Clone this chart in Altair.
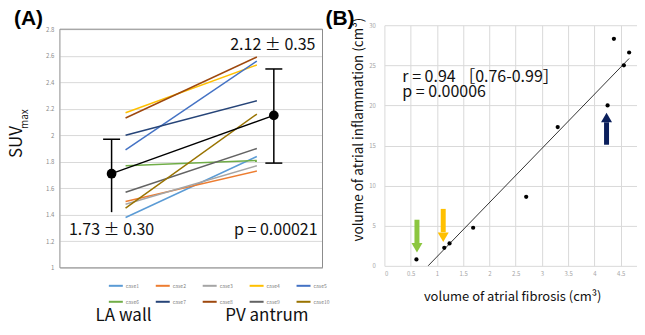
import altair as alt
import pandas as pd

# ---------------- Panel A data ----------------
cases = ["case1", "case2", "case3", "case4", "case5",
         "case6", "case7", "case8", "case9", "case10"]
case_colors = ["#5B9BD5", "#ED7D31", "#A5A5A5", "#FFC000", "#4472C4",
               "#70AD47", "#264478", "#9E480E", "#636363", "#997300"]
groups = ["LA wall", "PV antrum"]
suv_la = [1.38, 1.50, 1.48, 2.17, 1.89, 1.77, 2.00, 2.13, 1.57, 1.45]
suv_pv = [1.84, 1.73, 1.77, 2.53, 2.56, 1.81, 2.26, 2.59, 1.90, 2.16]
mean_suv = [1.71, 2.15]
err_low = [1.42, 1.79]
err_high = [1.97, 2.50]
stat_labels = ["1.73 ± 0.30", "2.12 ± 0.35"]
p_label_a = "p = 0.00021"
suv_ticks = [1.0, 1.2, 1.4, 1.6, 1.8, 2.0, 2.2, 2.4, 2.6, 2.8]

# ---------------- Panel B data ----------------
fibrosis = [0.61, 1.14, 1.24, 1.69, 2.70, 3.30, 4.25, 4.37, 4.56, 4.66]
inflammation = [0.8, 2.25, 2.8, 4.75, 8.6, 17.3, 20.0, 28.3, 25.0, 26.6]
fib_ticks = [0, 0.5, 1, 1.5, 2, 2.5, 3, 3.5, 4, 4.5]
inf_ticks = [0, 5, 10, 15, 20, 25, 30]
r_label = "r = 0.94 ［0.76-0.99］"
p_label_b = "p = 0.00006"
arrow_names = ["green", "yellow", "navy"]
arrow_colors = ["#8CC63F", "#FFC000", "#0B1F5C"]
arrow_shapes = ["triangle-down", "triangle-down", "triangle-up"]
arrow_x = [0.62, 1.12, 4.23]
arrow_tail = [5.75, 7.1, 15.1]
arrow_base = [2.8, 4.2, 17.9]
arrow_head = [2.25, 3.56, 18.5]

FONT = "Noto Sans CJK JP"
BOLD = "Liberation Sans"
GRID = "#d9d9d9"
FRAME = "#8c8c8c"
LABEL = "#8c8c8c"

# ================= Panel A =================
WA, HA = 263, 243
ya_scale = alt.Scale(domain=[1.0, 2.83], nice=False, zero=False)
xa = alt.X("group:N", scale=alt.Scale(type="point", domain=groups, padding=0.5), axis=None)

lines_df = pd.DataFrame({
    "case": cases + cases,
    "group": [groups[0]] * len(cases) + [groups[1]] * len(cases),
    "suv": suv_la + suv_pv,
})

lines = alt.Chart(lines_df).mark_line(strokeWidth=1.5).encode(
    x=xa,
    y=alt.Y("suv:Q", scale=ya_scale,
            axis=alt.Axis(values=suv_ticks, tickCount=len(suv_ticks), format="~g", grid=True,
                          gridColor=GRID, domain=False, ticks=False, labelFontSize=6,
                          labelColor=LABEL, labelPadding=6, title=None, labelFont=FONT,
                          labelOverlap=False)),
    color=alt.Color("case:N", scale=alt.Scale(domain=cases, range=case_colors),
                    legend=alt.Legend(orient="none", legendX=48, legendY=253, columns=5,
                                      direction="horizontal",
                                      title=None, symbolType="stroke", symbolSize=196,
                                      symbolStrokeWidth=2, labelFontSize=5, labelColor="#7f7f7f",
                                      labelOffset=2, columnPadding=12, rowPadding=4, padding=0,
                                      labelFont=FONT)),
)

frame_df = pd.DataFrame({"top": [suv_ticks[-1]], "bottom": [suv_ticks[0]]})
frame_top = alt.Chart(frame_df).mark_rule(color=FRAME, strokeWidth=1).encode(
    x=alt.value(0), x2=alt.value(WA), y="top:Q")
frame_bottom = alt.Chart(frame_df).mark_rule(color=FRAME, strokeWidth=1).encode(
    x=alt.value(0), x2=alt.value(WA), y="bottom:Q")
frame_left = alt.Chart(frame_df).mark_rule(color=FRAME, strokeWidth=1).encode(
    x=alt.value(0), y="top:Q", y2="bottom:Q")
frame_right = alt.Chart(frame_df).mark_rule(color=FRAME, strokeWidth=1).encode(
    x=alt.value(WA), y="top:Q", y2="bottom:Q")

one = pd.DataFrame({"k": [0]})
OFF = [-14, 17]

mean_line = alt.Chart(one).mark_rule(color="black", strokeWidth=1.3,
                                     xOffset=OFF[0], x2Offset=OFF[1]).encode(
    x=alt.datum(groups[0]), x2=alt.datum(groups[1]),
    y=alt.datum(mean_suv[0]), y2=alt.datum(mean_suv[1]))

err_layers = []
for i in range(2):
    err_layers.append(alt.Chart(one).mark_rule(color="black", strokeWidth=1.5, xOffset=OFF[i]).encode(
        x=alt.datum(groups[i]), y=alt.datum(err_low[i]), y2=alt.datum(err_high[i])))
    caps = [err_high[i]] if i == 0 else [err_high[i], err_low[i]]
    for c in caps:
        err_layers.append(alt.Chart(one).mark_rule(color="black", strokeWidth=1.5,
                                                   xOffset=OFF[i] - 8.5, x2Offset=OFF[i] + 8.5).encode(
            x=alt.datum(groups[i]), x2=alt.datum(groups[i]), y=alt.datum(c)))
    err_layers.append(alt.Chart(one).mark_circle(color="black", opacity=1, size=95, xOffset=OFF[i]).encode(
        x=alt.datum(groups[i]), y=alt.datum(mean_suv[i])))

txt_a = [
    alt.Chart(pd.DataFrame({"t": [stat_labels[1]]})).mark_text(
        font=FONT, fontSize=16, color="#111", baseline="alphabetic", dx=16).encode(
        x=alt.datum(groups[1]), y=alt.value(25), text="t:N"),
    alt.Chart(pd.DataFrame({"t": [stat_labels[0]]})).mark_text(
        font=FONT, fontSize=16, color="#111", baseline="alphabetic", dx=-14).encode(
        x=alt.datum(groups[0]), y=alt.value(210), text="t:N"),
    alt.Chart(pd.DataFrame({"t": [p_label_a]})).mark_text(
        font=FONT, fontSize=16, color="#111", baseline="alphabetic", dx=19).encode(
        x=alt.datum(groups[1]), y=alt.value(210), text="t:N"),
    alt.Chart(pd.DataFrame({"t": [groups[0]]})).mark_text(
        font=FONT, fontSize=17, color="#111", baseline="alphabetic", dx=-2).encode(
        x=alt.datum(groups[0]), y=alt.value(296), text="t:N"),
    alt.Chart(pd.DataFrame({"t": [groups[1]]})).mark_text(
        font=FONT, fontSize=17, color="#111", baseline="alphabetic", dx=10).encode(
        x=alt.datum(groups[1]), y=alt.value(296), text="t:N"),
    alt.Chart(pd.DataFrame({"t": ["(A)"]})).mark_text(
        font=BOLD, fontSize=21, fontWeight="bold", color="black", align="left", baseline="top").encode(
        x=alt.value(-46), y=alt.value(-17), text="t:N"),
    alt.Chart(pd.DataFrame({"t": ["SUV"]})).mark_text(
        font=FONT, fontSize=17, color="#111", angle=270, align="center", baseline="middle").encode(
        x=alt.value(-42.5), y=alt.value(117), text="t:N"),
    alt.Chart(pd.DataFrame({"t": ["max"]})).mark_text(
        font=FONT, fontSize=10, color="#111", angle=270, align="center", baseline="middle").encode(
        x=alt.value(-35), y=alt.value(94), text="t:N"),
]

panel_a = alt.layer(lines, frame_top, frame_bottom, frame_left, frame_right,
                    mean_line, *err_layers, *txt_a).properties(width=WA, height=HA)

# ================= Panel B =================
WB, HB = 253, 241
xb_scale = alt.Scale(domain=[0, 4.81], nice=False, zero=False)
yb_scale = alt.Scale(domain=[0, 30], nice=False)

pts_df = pd.DataFrame({"fibrosis": fibrosis, "inflammation": inflammation})

xb_axis = alt.Axis(values=fib_ticks, tickCount=len(fib_ticks), format="~g", grid=True,
                   gridColor=GRID, domain=False, ticks=False, labelFontSize=6,
                   labelColor="#a6a6a6", labelPadding=5, labelFont=FONT, labelOverlap=False,
                   title="volume of atrial fibrosis (cm³)", titleFont=FONT, titleFontSize=13,
                   titleFontWeight="normal", titleColor="#111", titleX=128, titleY=31,
                   titleBaseline="middle", titleAlign="center")
yb_axis = alt.Axis(values=inf_ticks, tickCount=len(inf_ticks), format="~g", grid=True,
                   gridColor=GRID, domain=False, ticks=False, labelFontSize=6,
                   labelColor="#a6a6a6", labelPadding=9, labelFont=FONT, labelOverlap=False,
                   title="volume of atrial inflammation (cm³)", titleFont=FONT, titleFontSize=13.5,
                   titleFontWeight="normal", titleColor="#111", titleX=-26, titleY=104,
                   titleAngle=270, titleBaseline="middle", titleAlign="center")

points = alt.Chart(pts_df).mark_circle(color="black", opacity=1, size=18).encode(
    x=alt.X("fibrosis:Q", scale=xb_scale, axis=xb_axis),
    y=alt.Y("inflammation:Q", scale=yb_scale, axis=yb_axis))

reg = alt.Chart(pts_df).transform_regression("fibrosis", "inflammation").mark_line(
    color="black", strokeWidth=0.8, clip=True).encode(
    x="fibrosis:Q", y="inflammation:Q")

arrow_df = pd.DataFrame({"name": arrow_names, "ax": arrow_x, "tail": arrow_tail,
                         "base": arrow_base, "head": arrow_head})
arrow_color = alt.Color("name:N", scale=alt.Scale(domain=arrow_names, range=arrow_colors), legend=None)
shafts = alt.Chart(arrow_df).mark_rule(strokeWidth=5).encode(
    x="ax:Q", y="tail:Q", y2="base:Q", color=arrow_color)
heads = alt.Chart(arrow_df).mark_point(filled=True, opacity=1, size=121).encode(
    x="ax:Q", y="head:Q", color=arrow_color,
    shape=alt.Shape("name:N", scale=alt.Scale(domain=arrow_names, range=arrow_shapes), legend=None))

txt_b = [
    alt.Chart(pd.DataFrame({"t": [r_label]})).mark_text(
        font=FONT, fontSize=16, color="#111", align="left", baseline="alphabetic").encode(
        x=alt.value(18), y=alt.value(57), text="t:N"),
    alt.Chart(pd.DataFrame({"t": [p_label_b]})).mark_text(
        font=FONT, fontSize=16, color="#111", align="left", baseline="alphabetic").encode(
        x=alt.value(18), y=alt.value(72), text="t:N"),
    alt.Chart(pd.DataFrame({"t": ["(B)"]})).mark_text(
        font=BOLD, fontSize=21, fontWeight="bold", color="black", align="left", baseline="top").encode(
        x=alt.value(-59), y=alt.value(-17), text="t:N"),
]

panel_b = alt.layer(points, reg, shafts, heads, *txt_b).properties(width=WB, height=HB)

chart = alt.hconcat(panel_a, panel_b, spacing=62, bounds="flush", padding=0).resolve_scale(
    color="independent", shape="independent").configure_view(stroke=None)

chart.save("out.html", embed_options={"renderer": "svg", "actions": False})
